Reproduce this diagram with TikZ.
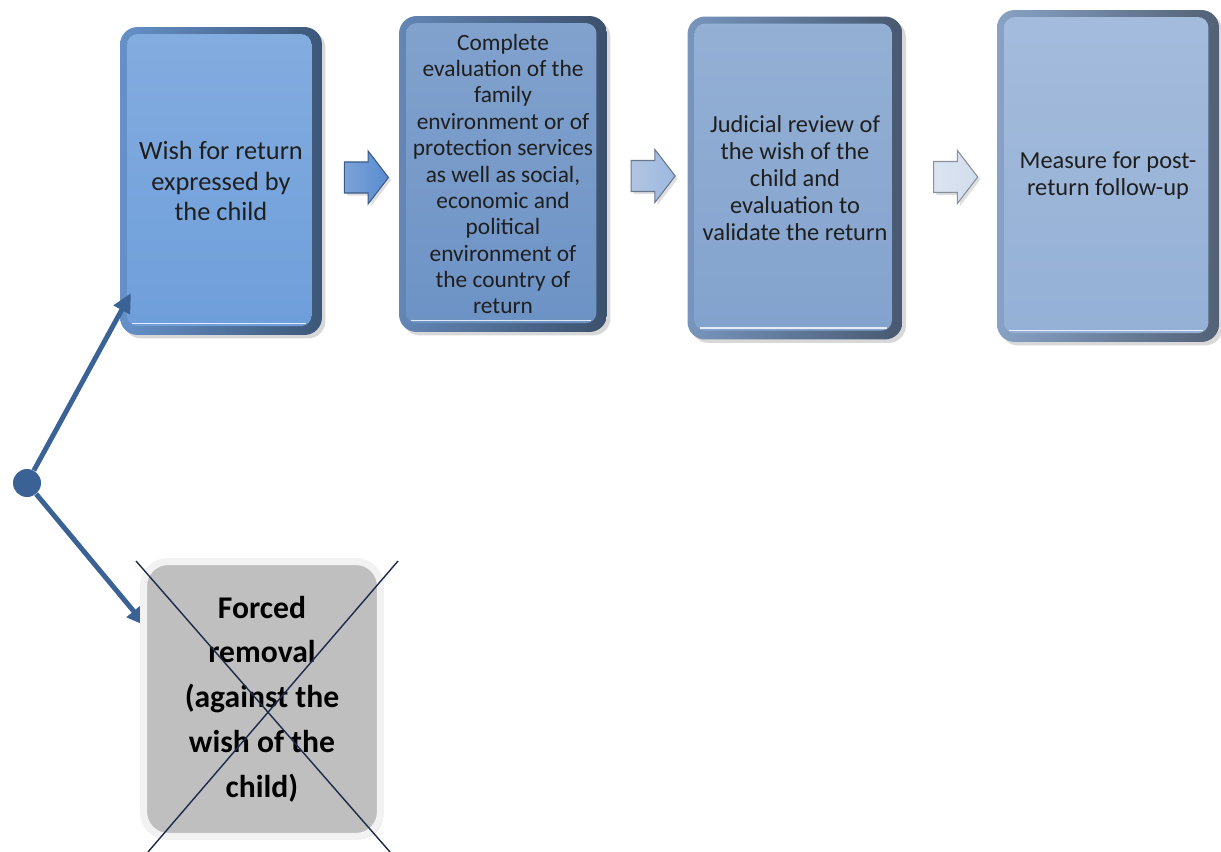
\documentclass[tikz,border=0pt]{standalone}
\usepackage{fontspec}
\setmainfont{Carlito}
\usetikzlibrary{shapes.arrows,shadows,calc,arrows.meta}

\definecolor{stageA}{HTML}{6E9EDA}
\definecolor{stageB}{HTML}{6C92C5}
\definecolor{stageC}{HTML}{82A2CD}
\definecolor{stageD}{HTML}{94B0D6}
\definecolor{flowA}{HTML}{5A8CCF}
\definecolor{flowB}{HTML}{9DB7DD}
\definecolor{flowC}{HTML}{D2DDED}
\definecolor{linkblue}{HTML}{3B6294}
\definecolor{crossline}{HTML}{1C2B48}
\definecolor{forcedgray}{HTML}{BFBFBF}
\definecolor{forcedrim}{HTML}{F2F2F2}
\definecolor{forcedshade}{HTML}{8FA9BF}

\tikzset{
	stage/.style={rounded corners=10pt, align=center, text=black!88, inner sep=0pt,
		left color=#1!92!black, right color=#1!55!black,
		drop shadow={shadow xshift=2pt, shadow yshift=-2pt, opacity=0.3},
		path picture={
			\shade[top color=#1!85!white, bottom color=#1, rounded corners=6pt]
				([shift={(4pt,-4pt)}]path picture bounding box.north west) rectangle
				([shift={(-6pt,5pt)}]path picture bounding box.south east);
			\draw[white, line width=1pt, opacity=0.8]
				([shift={(7pt,6.5pt)}]path picture bounding box.south west) --
				([shift={(-9pt,6.5pt)}]path picture bounding box.south east);
		}},
	flow/.style={single arrow, single arrow head extend=0.22cm, single arrow tip angle=105,
		minimum height=0.88cm, minimum width=1.04cm, inner xsep=0pt, inner ysep=0.3cm,
		draw=#1!65!black, line width=0.6pt, left color=#1!80!white, right color=#1,
		drop shadow={shadow xshift=1.5pt, shadow yshift=-1.5pt, opacity=0.25}},
	link/.style={linkblue, line width=2.8pt, -{Triangle[length=11pt,width=10pt]}},
	forced/.style={rounded corners=14pt, fill=forcedgray, draw=forcedrim, line width=4pt,
		align=center, inner sep=0pt, font=\bfseries\fontsize{18}{25.5}\selectfont,
		drop shadow={shadow xshift=1.5pt, shadow yshift=-1.5pt, fill=forcedshade, opacity=0.8}}
}

\begin{document}
\begin{tikzpicture}[x=0.02cm, y=-0.02cm]
	\path[use as bounding box, fill=white] (0,0) rectangle (1221,852);

	\node[stage=stageA, minimum width=4.04cm, minimum height=6.16cm, font=\fontsize{15}{17.6}\selectfont] (wish) at (221,181) {Wish for return\\expressed by\\the child};
	\node[stage=stageB, minimum width=4.16cm, minimum height=6.32cm, font=\fontsize{13.3}{15}\selectfont] (eval) at (503,174) {Complete\\evaluation of the\\family\\environment or of\\protection services\\as well as social,\\economic and\\political\\environment of\\the country of\\return};
	\node[stage=stageC, minimum width=4.3cm, minimum height=6.46cm, font=\fontsize{13.9}{15.3}\selectfont] (review) at (795,178) {Judicial review of\\the wish of the\\child and\\evaluation to\\validate the return};
	\node[stage=stageD, minimum width=4.44cm, minimum height=6.64cm, font=\fontsize{13.9}{15.3}\selectfont] (follow) at (1108,176) {Measure for post-\\return follow-up};

	\node[flow=flowA] (f1) at ($(wish.east)!0.5!(eval.west)$) {};
	\node[flow=flowB] (f2) at ($(eval.east)!0.5!(review.west)$) {};
	\node[flow=flowC] (f3) at ($(review.east)!0.5!(follow.west)$) {};

	\node[circle, fill=linkblue, minimum size=0.56cm, inner sep=0pt] (split) at (27,483) {};
	\coordinate (toWish) at (131,293);
	\coordinate (toForced) at (146,626);
	\draw[link] (split) -- (toWish);
	\draw[link] (split) -- (toForced);

	\node[forced, minimum width=4.74cm, minimum height=5.5cm] (removal) at (262,699) {Forced\\removal\\(against the\\wish of the\\child)};
	\draw[crossline, line width=0.8pt] (136,561) -- (390,852);
	\draw[crossline, line width=0.8pt] (398,561) -- (148,852);
\end{tikzpicture}
\end{document}
